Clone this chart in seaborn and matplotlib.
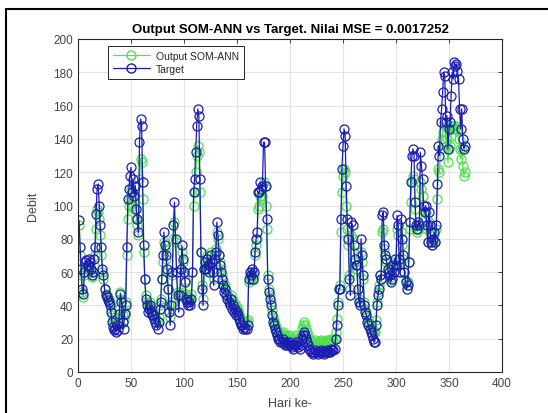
import numpy as np
import pandas as pd
import matplotlib
matplotlib.use("Agg")
import matplotlib.pyplot as plt
from matplotlib.lines import Line2D
import seaborn as sns

title = "Output SOM-ANN vs Target. Nilai MSE = 0.0017252"
xlabel = "Hari ke-"
ylabel = "Debit"
series_names = ["Output SOM-ANN", "Target"]
xticks = [0, 50, 100, 150, 200, 250, 300, 350, 400]
yticks = [0, 20, 40, 60, 80, 100, 120, 140, 160, 180, 200]

target = [
    91, 75, 62, 50, 47, 60, 66, 67, 64, 68,
    66, 62, 58, 60, 68, 75, 95, 110, 113, 100,
    88, 75, 62, 58, 50, 46, 45, 43, 42, 40,
    36, 30, 27, 25, 26, 24, 28, 25, 35, 47,
    42, 30, 26, 35, 40, 75, 104, 110, 118, 123,
    108, 116, 106, 112, 98, 92, 84, 138, 152, 148,
    114, 76, 56, 44, 40, 36, 38, 40, 36, 34,
    34, 32, 30, 28, 26, 30, 38, 42, 56, 70,
    84, 76, 70, 62, 50, 36, 28, 40, 60, 88,
    102, 80, 60, 46, 36, 46, 62, 76, 68, 60,
    54, 44, 42, 40, 42, 40, 44, 60, 108, 116,
    132, 148, 158, 154, 116, 72, 50, 40, 62, 66,
    62, 68, 64, 60, 70, 66, 60, 52, 68, 72,
    90, 82, 70, 64, 60, 56, 52, 48, 50, 46,
    44, 42, 40, 44, 38, 40, 36, 38, 34, 36,
    34, 32, 30, 28, 28, 26, 27, 26, 26, 28,
    56, 60, 58, 62, 56, 60, 72, 80, 84, 108,
    108, 114, 110, 112, 138, 138, 112, 92, 56, 48,
    44, 40, 34, 30, 28, 26, 24, 22, 20, 20,
    18, 18, 20, 18, 16, 18, 16, 17, 18, 16,
    16, 15, 14, 16, 17, 18, 16, 15, 14, 16,
    20, 22, 24, 22, 20, 18, 16, 14, 13, 12,
    12, 11, 12, 13, 12, 11, 12, 12, 13, 12,
    12, 11, 12, 12, 13, 12, 12, 12, 14, 13,
    13, 14, 20, 28, 40, 50, 50, 92, 122, 136,
    146, 142, 112, 92, 80, 56, 46, 90, 88, 76,
    68, 64, 64, 50, 42, 40, 80, 70, 58, 40,
    36, 34, 30, 28, 26, 24, 22, 20, 18, 18,
    28, 40, 46, 50, 58, 56, 94, 96, 76, 70,
    68, 62, 60, 58, 54, 56, 64, 60, 68, 64,
    94, 88, 68, 60, 92, 80, 70, 60, 54, 50,
    52, 66, 90, 114, 130, 134, 130, 102, 88, 86,
    90, 88, 132, 124, 116, 100, 96, 100, 88, 78,
    96, 88, 78, 76, 80, 84, 78, 88, 113, 136,
    130, 150, 158, 168, 180, 178, 150, 154, 134, 146,
    150, 166, 180, 176, 186, 184, 185, 181, 176, 158,
    146, 158, 140, 134, 136,
]

output = [
    88, 70, 58, 48, 45, 58, 63, 64, 62, 64,
    63, 60, 57, 58, 64, 70, 86, 98, 96, 92,
    82, 70, 60, 56, 50, 47, 46, 45, 44, 42,
    38, 34, 31, 30, 30, 29, 32, 30, 38, 48,
    44, 34, 31, 36, 42, 70, 92, 100, 104, 110,
    100, 106, 98, 102, 92, 88, 82, 116, 128, 126,
    104, 72, 56, 46, 42, 39, 40, 42, 39, 37,
    36, 35, 33, 32, 30, 33, 40, 44, 56, 66,
    78, 74, 68, 60, 50, 40, 33, 42, 58, 80,
    90, 78, 60, 48, 40, 48, 60, 72, 66, 60,
    55, 47, 45, 43, 45, 43, 47, 60, 100, 108,
    120, 130, 136, 132, 108, 72, 52, 44, 62, 66,
    64, 70, 66, 62, 72, 68, 62, 56, 70, 74,
    84, 80, 70, 66, 62, 58, 55, 51, 52, 49,
    47, 45, 43, 46, 41, 43, 39, 41, 37, 39,
    37, 35, 33, 31, 31, 30, 30, 30, 30, 31,
    54, 58, 56, 60, 55, 58, 70, 76, 80, 98,
    100, 106, 104, 106, 114, 112, 100, 86, 58, 50,
    46, 42, 37, 33, 31, 29, 27, 25, 24, 24,
    22, 22, 24, 22, 20, 22, 20, 21, 22, 20,
    20, 19, 19, 20, 21, 22, 20, 20, 19, 22,
    26, 28, 30, 28, 26, 24, 22, 20, 19, 18,
    18, 17, 18, 19, 18, 17, 18, 18, 19, 18,
    18, 17, 18, 18, 19, 18, 18, 18, 20, 19,
    19, 20, 24, 32, 42, 50, 52, 84, 108, 118,
    122, 120, 100, 86, 76, 58, 50, 82, 80, 72,
    66, 62, 62, 50, 44, 42, 72, 66, 56, 42,
    38, 36, 33, 31, 29, 27, 26, 25, 24, 24,
    31, 42, 48, 52, 58, 56, 84, 86, 74, 68,
    66, 62, 60, 58, 55, 57, 63, 60, 66, 63,
    86, 82, 66, 60, 84, 76, 68, 60, 55, 52,
    54, 66, 86, 102, 114, 118, 116, 98, 86, 84,
    88, 86, 114, 110, 106, 96, 92, 96, 86, 78,
    90, 84, 78, 76, 78, 82, 78, 86, 104, 122,
    120, 134, 140, 144, 150, 148, 136, 140, 126, 134,
    136, 142, 148, 146, 148, 146, 148, 146, 140, 134,
    128, 134, 124, 118, 120,
]

days = np.arange(1, len(target) + 1)

df = pd.DataFrame({
    "day": np.concatenate([days, days]),
    "value": np.concatenate([output, target]),
    "series": [series_names[0]] * len(output) + [series_names[1]] * len(target),
})

sns.set_style("white")
plt.rcParams["font.family"] = ["Liberation Sans", "DejaVu Sans"]

fig = plt.figure(figsize=(5.48, 4.14), dpi=100)
ax = fig.add_axes([78 / 548, 1 - 373 / 414, (502 - 78) / 548, (373 - 40) / 414])

palette = {series_names[0]: "#4ee04e", series_names[1]: "#1c1cb4"}
sns.lineplot(data=df, x="day", y="value", hue="series", palette=palette,
             marker="o", markerfacecolor="none", markersize=6.5,
             markeredgewidth=0.9, linewidth=0.9, ax=ax, legend=False,
             hue_order=series_names, estimator=None, sort=False)
for ln, nm in zip(ax.get_lines(), series_names):
    ln.set_markeredgecolor(palette[nm])

ax.set_xlim(0, 400)
ax.set_ylim(0, 200)
ax.set_xticks(xticks)
ax.set_yticks(yticks)
ax.grid(True, color="#e3e3e3", linewidth=0.8)
ax.set_axisbelow(True)
for s in ax.spines.values():
    s.set_color("#262626")
    s.set_linewidth(0.8)
ax.tick_params(direction="in", length=3, width=0.6, colors="#262626",
               top=True, right=True, labelsize=8.5, labelcolor="#444444")
ax.set_xlabel(xlabel, fontsize=9, color="#444444", labelpad=6)
ax.set_ylabel(ylabel, fontsize=9, color="#444444", labelpad=10)
ax.set_title(title, fontsize=9.5, fontweight="bold", color="black", pad=5)

handles = [Line2D([0], [0], color=palette[n], marker="o", markerfacecolor="none",
                  markeredgecolor=palette[n], markersize=6.5, linewidth=0.9)
           for n in series_names]
leg = ax.legend(handles, series_names, loc="upper left",
                bbox_to_anchor=(30 / 424, 0.98), borderaxespad=0,
                fontsize=7.5, frameon=True,
                fancybox=False, edgecolor="#262626", framealpha=1,
                handlelength=3.5, borderpad=0.5, labelspacing=0.3,
                handletextpad=0.6)
leg.get_frame().set_linewidth(0.7)

fig.add_artist(Line2D([6 / 548, 6 / 548], [0, 1 - 10 / 414], color="black",
                      linewidth=1.5, transform=fig.transFigure))
fig.add_artist(Line2D([6 / 548, 1], [1 - 10 / 414, 1 - 10 / 414], color="black",
                      linewidth=1.5, transform=fig.transFigure))

fig.savefig("out.png", dpi=100)
